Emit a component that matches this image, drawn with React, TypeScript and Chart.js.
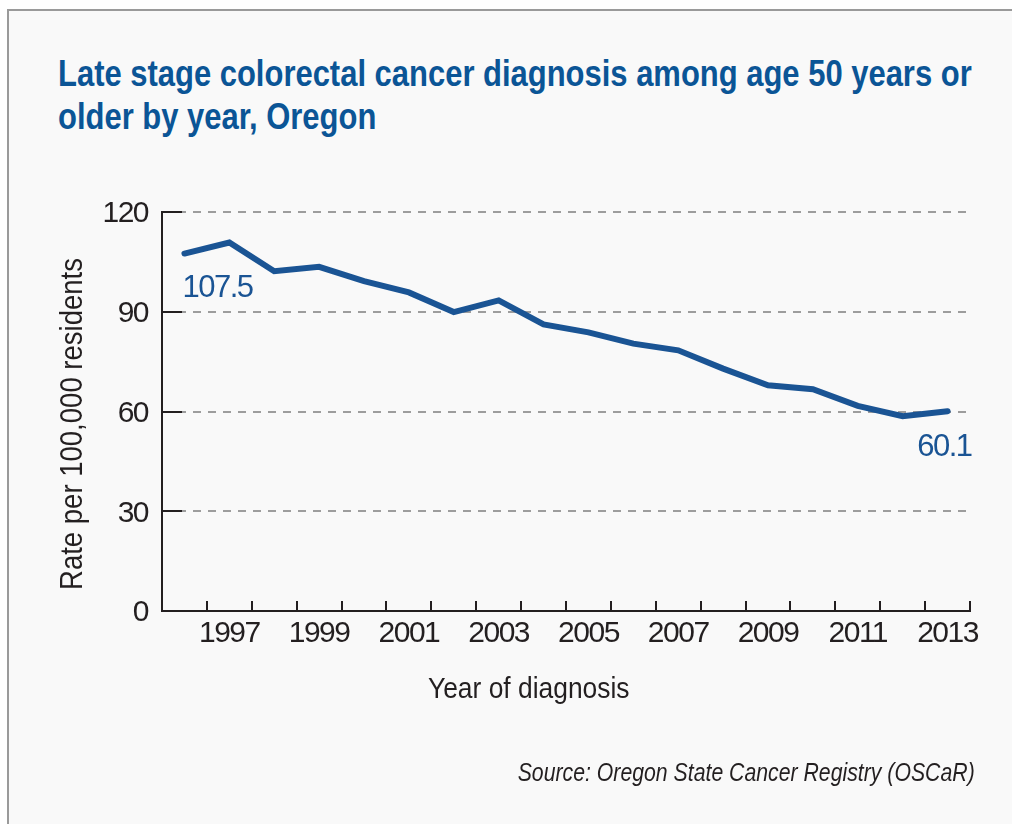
import React, { useEffect, useRef } from "react";
import { Chart, registerables } from "chart.js";

Chart.register(...registerables);

// ---- data ----
const years = [
  "1996", "1997", "1998", "1999", "2000", "2001", "2002", "2003", "2004",
  "2005", "2006", "2007", "2008", "2009", "2010", "2011", "2012", "2013",
];
const rates = [
  107.5, 110.8, 102.2, 103.5, 99.2, 95.8, 89.9, 93.4, 86.2,
  83.8, 80.4, 78.4, 72.9, 67.9, 66.7, 61.7, 58.6, 60.1,
];
const labeledYears = ["1997", "1999", "2001", "2003", "2005", "2007", "2009", "2011", "2013"];
const yMin = 0;
const yMax = 120;
const yStep = 30;

const titleLines = [
  "Late stage colorectal cancer diagnosis among age 50 years or",
  "older by year, Oregon",
];
const yTitle = "Rate per 100,000 residents";
const xTitle = "Year of diagnosis";
const sourceText = "Source: Oregon State Cancer Registry (OSCaR)";

// ---- styles ----
const FONT = '"Liberation Sans", Arial, sans-serif';
const BLUE = "#1a5494";
const TITLE_BLUE = "#0b5596";
const TEXT = "#231f20";
const GRID = "#9d9d9d";
const CANVAS_SPACING = "-1.5px";

const spacingPlugin = {
  id: "condensedText",
  beforeDraw(chart: any) {
    (chart.ctx as any).letterSpacing = CANVAS_SPACING;
  },
};

const tickMarksPlugin = {
  id: "inwardTicks",
  afterDraw(chart: any) {
    const { ctx, chartArea, scales } = chart;
    const xs = scales.x;
    const ys = scales.y;
    ctx.save();
    ctx.strokeStyle = TEXT;
    ctx.lineWidth = 2;
    ctx.setLineDash([]);
    ys.ticks.forEach((t: any) => {
      const py = Math.round(ys.getPixelForValue(t.value));
      ctx.beginPath();
      ctx.moveTo(chartArea.left, py);
      ctx.lineTo(chartArea.left + 20, py);
      ctx.stroke();
    });
    for (let i = 0; i < years.length; i++) {
      const px = Math.round(xs.getPixelForValue(i + 0.5));
      ctx.beginPath();
      ctx.moveTo(px, chartArea.bottom);
      ctx.lineTo(px, chartArea.bottom - 10);
      ctx.stroke();
    }
    ctx.restore();
  },
};

const endLabelsPlugin = {
  id: "endLabels",
  afterDatasetsDraw(chart: any) {
    const { ctx } = chart;
    const meta = chart.getDatasetMeta(0);
    const first = meta.data[0];
    const last = meta.data[meta.data.length - 1];
    ctx.save();
    ctx.letterSpacing = CANVAS_SPACING;
    ctx.fillStyle = BLUE;
    ctx.font = `31px ${FONT}`;
    ctx.textBaseline = "alphabetic";
    ctx.textAlign = "left";
    ctx.fillText(rates[0].toFixed(1), first.x - 2, first.y + 43);
    ctx.textAlign = "right";
    ctx.fillText(rates[rates.length - 1].toFixed(1), last.x + 24, last.y + 45);
    ctx.restore();
  },
};

export default function App() {
  const canvasRef = useRef<HTMLCanvasElement | null>(null);

  useEffect(() => {
    const canvas = canvasRef.current;
    if (!canvas) return;
    const chart = new Chart(canvas, {
      type: "line",
      data: {
        labels: years,
        datasets: [
          {
            data: rates,
            borderColor: BLUE,
            backgroundColor: BLUE,
            borderWidth: 6,
            pointRadius: 0,
            tension: 0,
            borderCapStyle: "round",
            borderJoinStyle: "miter",
          },
        ],
      },
      options: {
        animation: false,
        responsive: false,
        devicePixelRatio: 1,
        layout: { padding: { left: 0, top: 212, right: 43, bottom: 0 } },
        plugins: {
          legend: { display: false },
          tooltip: { enabled: false },
          title: { display: false },
        },
        scales: {
          x: {
            type: "category",
            offset: true,
            grid: { display: true, drawOnChartArea: false, drawTicks: false, offset: true },
            border: { display: true, color: TEXT, width: 2 },
            ticks: {
              autoSkip: false,
              maxRotation: 0,
              minRotation: 0,
              padding: 5,
              color: TEXT,
              font: { family: FONT, size: 30 },
              callback: (_v: any, i: number) => (labeledYears.includes(years[i]) ? years[i] : ""),
            },
            afterFit: (s: any) => {
              s.height = 824 - 611;
            },
          },
          y: {
            min: yMin,
            max: yMax,
            grid: {
              drawTicks: false,
              lineWidth: 2,
              color: (c: any) => (c.tick && c.tick.value === 0 ? "rgba(0,0,0,0)" : GRID),
            },
            border: { display: true, color: TEXT, width: 2, dash: [8, 7] },
            ticks: {
              stepSize: yStep,
              padding: 14,
              labelOffset: 2,
              color: TEXT,
              font: { family: FONT, size: 30 },
            },
            afterFit: (s: any) => {
              s.width = 162;
            },
          },
        },
      },
      plugins: [spacingPlugin, tickMarksPlugin, endLabelsPlugin],
    });
    return () => chart.destroy();
  }, []);

  const condensed = (sx: number, origin: string) => ({
    transform: `scaleX(${sx})`,
    transformOrigin: origin,
  });

  return (
    <div style={{ position: "fixed", left: 0, top: 0, width: 1013, height: 824, background: "#ffffff", overflow: "hidden" }}>
      <div
        style={{
          position: "absolute",
          left: 7,
          top: 9,
          width: 1003,
          height: 900,
          background: "#f9f9f9",
          borderTop: "2px solid #9a9a9a",
          borderLeft: "2px solid #9a9a9a",
        }}
      />
      {titleLines.map((line, i) => (
        <div
          key={i}
          style={{
            position: "absolute",
            left: 58,
            top: 52 + i * 43,
            fontFamily: FONT,
            fontWeight: 700,
            fontSize: 36,
            lineHeight: "43px",
            color: TITLE_BLUE,
            whiteSpace: "nowrap",
            ...condensed(0.86, "0 50%"),
          }}
        >
          {line}
        </div>
      ))}
      <canvas
        ref={canvasRef}
        width={1013}
        height={824}
        style={{ position: "absolute", left: 0, top: 0, width: 1013, height: 824 }}
      />
      <div
        style={{
          position: "absolute",
          left: -129,
          top: 406,
          width: 400,
          height: 36,
          lineHeight: "36px",
          textAlign: "center",
          transform: "rotate(-90deg) scaleX(0.86)",
          transformOrigin: "50% 50%",
          fontFamily: FONT,
          fontSize: 32,
          color: TEXT,
          whiteSpace: "nowrap",
        }}
      >
        {yTitle}
      </div>
      <div
        style={{
          position: "absolute",
          left: 428,
          top: 670,
          lineHeight: "36px",
          fontFamily: FONT,
          fontSize: 30,
          color: TEXT,
          whiteSpace: "nowrap",
          ...condensed(0.88, "0 50%"),
        }}
      >
        {xTitle}
      </div>
      <div
        style={{
          position: "absolute",
          right: 38,
          top: 757,
          lineHeight: "30px",
          fontFamily: FONT,
          fontStyle: "italic",
          fontSize: 25,
          color: TEXT,
          whiteSpace: "nowrap",
          textAlign: "right",
          ...condensed(0.85, "100% 50%"),
        }}
      >
        {sourceText}
      </div>
    </div>
  );
}
